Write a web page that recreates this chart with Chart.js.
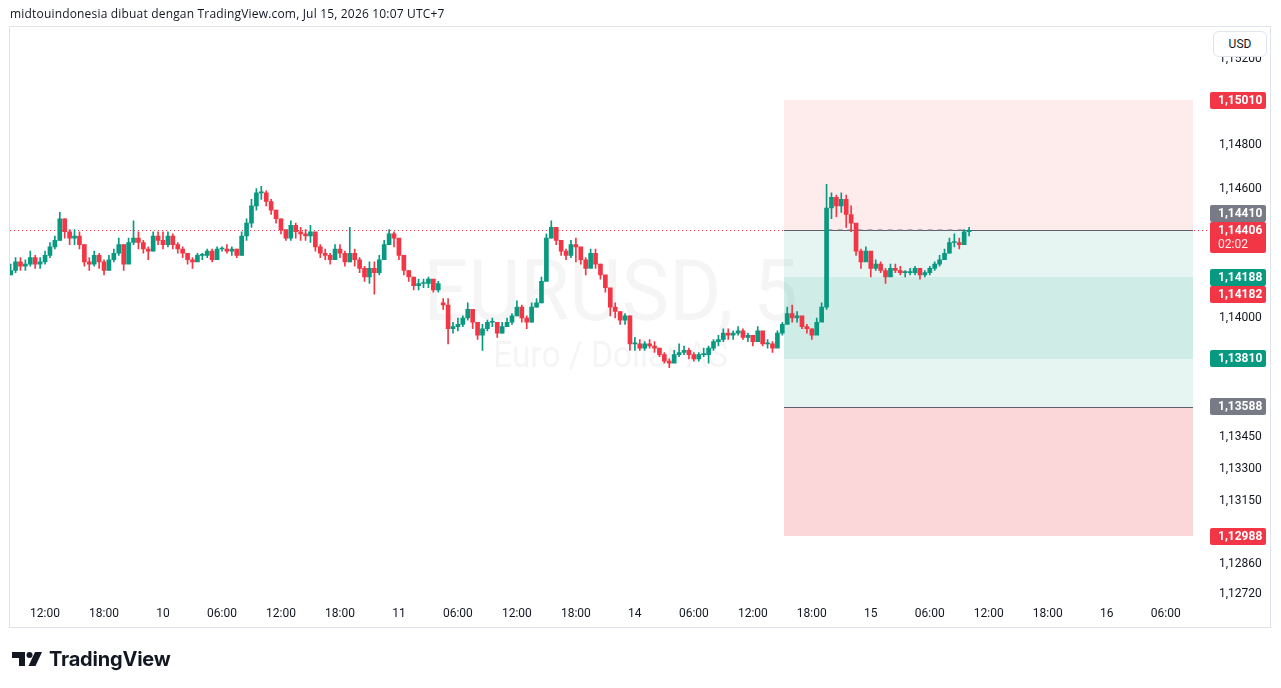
<!DOCTYPE html>
<html lang="id">
<head>
<meta charset="UTF-8">
<title>EURUSD, 5 - TradingView</title>
<script src="https://cdn.jsdelivr.net/npm/chart.js@4.4.0/dist/chart.umd.min.js"></script>
<style>
  html, body { margin: 0; padding: 0; background: #fff; }
  body { width: 1281px; height: 688px; position: relative; overflow: hidden;
         font-family: Roboto, "Liberation Sans", sans-serif; color: #131722; }
  #chart { position: absolute; left: 0; top: 0; }
  #header { position: absolute; left: 10px; top: 7px; font-family: "Open Sans", Roboto, sans-serif;
            font-size: 12px; line-height: 14px; letter-spacing: 0.18px; }
  #usd { position: absolute; left: 1213px; top: 31px; width: 52px; height: 24px;
         border: 1px solid #e0e3eb; border-radius: 6px; background: #fff;
         font-size: 12px; line-height: 24px; text-align: center; }
  #logo { position: absolute; left: 12px; top: 647px; display: flex; align-items: center; }
  #logo span { font-family: Inter, Roboto, sans-serif; font-weight: 700; font-size: 20px;
               margin-left: 7px; letter-spacing: -0.2px; }
</style>
</head>
<body>
<canvas id="chart" width="1281" height="688"></canvas>
<div id="header">midtouindonesia dibuat dengan TradingView.com, Jul 15, 2026 10:07 UTC+7</div>
<div id="usd">USD</div>
<div id="logo">
  <svg width="30" height="18" viewBox="0 0 30 18">
    <path d="M0 2h13v14h-6v-8H0z" fill="#131722"/>
    <circle cx="17.5" cy="5" r="3" fill="#131722"/>
    <path d="M23 2h7l-6.5 14h-7z" fill="#131722"/>
  </svg>
  <span>TradingView</span>
</div>

<script>
// ---- data (EURUSD, 30-minute resampling of the 5m chart) ----
const firstCandleHour = 8.5;     // Jul 9 08:30, hours counted over trading time
const candleStepHours = 0.5;
const firstOpen = 1.1420;
const weekendGapIndex = 88;      // Monday open after the weekend gap
const weekendGapOpen = 1.1407;

const closes = [
  1.1422, 1.1426, 1.1424, 1.1425, 1.1428, 1.1425, 1.1426, 1.1429, 1.1433, 1.1436,
  1.1446, 1.1440, 1.1437, 1.1438, 1.1434, 1.1426, 1.1425, 1.1429, 1.1426, 1.1422,
  1.1427, 1.1430, 1.1434, 1.1425, 1.1435, 1.1437, 1.1435, 1.1432, 1.1431, 1.1438,
  1.1436, 1.1434, 1.1438, 1.1434, 1.1432, 1.1430, 1.1427, 1.1426, 1.1429, 1.1429,
  1.1431, 1.1427, 1.1432, 1.1432, 1.1431, 1.1432, 1.1429, 1.1438, 1.1444, 1.1452,
  1.1458, 1.1458, 1.1454, 1.1450, 1.1446, 1.1441, 1.1437, 1.1443, 1.1440, 1.1439,
  1.1438, 1.1440, 1.1433, 1.1430, 1.1429, 1.1427, 1.1432, 1.1430, 1.1426, 1.1430,
  1.1427, 1.1423, 1.1419, 1.1423, 1.1421, 1.1427, 1.1434, 1.1439, 1.1437, 1.1429,
  1.1422, 1.1419, 1.1415, 1.1416, 1.1416, 1.1418, 1.1413, 1.1416, 1.1406, 1.1395,
  1.1396, 1.1397, 1.1400, 1.1404, 1.1398, 1.1392, 1.1395, 1.1398, 1.1398, 1.1393,
  1.1396, 1.1398, 1.1401, 1.1405, 1.1400, 1.1398, 1.1405, 1.1407, 1.1417, 1.1437,
  1.1442, 1.1436, 1.1431, 1.1429, 1.1434, 1.1433, 1.1427, 1.1423, 1.1430, 1.1425,
  1.1420, 1.1414, 1.1405, 1.1403, 1.1399, 1.1401, 1.1388, 1.1388, 1.1386, 1.1388,
  1.1387, 1.1386, 1.1383, 1.1380, 1.1379, 1.1383, 1.1384, 1.1385, 1.1383, 1.1381,
  1.1383, 1.1383, 1.1386, 1.1389, 1.1390, 1.1393, 1.1392, 1.1393, 1.1394, 1.1391,
  1.1392, 1.1389, 1.1394, 1.1388, 1.1388, 1.1386, 1.1393, 1.1397, 1.1402, 1.1400,
  1.1401, 1.1396, 1.1395, 1.1392, 1.1398, 1.1405, 1.1451, 1.1456, 1.1452, 1.1455,
  1.1448, 1.1444, 1.1431, 1.1426, 1.1431, 1.1423, 1.1425, 1.1422, 1.1419, 1.1423,
  1.1422, 1.1421, 1.1421, 1.1421, 1.1423, 1.1420, 1.1421, 1.1423, 1.1425, 1.1427,
  1.1430, 1.1435, 1.1435, 1.1434, 1.1440, 1.14406
];
const highs = [
  1.1425, 1.1428, 1.1428, 1.1427, 1.1431, 1.1429, 1.1428, 1.1431, 1.1435, 1.1438,
  1.1449, 1.1446, 1.1441, 1.1441, 1.1440, 1.1434, 1.1428, 1.1431, 1.1430, 1.1427,
  1.1429, 1.1432, 1.1437, 1.1434, 1.1437, 1.1445, 1.1440, 1.1436, 1.1433, 1.1440,
  1.1440, 1.1440, 1.1440, 1.1439, 1.1435, 1.1433, 1.1430, 1.1428, 1.1430, 1.1430,
  1.1432, 1.1432, 1.1433, 1.1433, 1.1434, 1.1433, 1.1432, 1.1440, 1.1446, 1.1455,
  1.1460, 1.1461, 1.1459, 1.1455, 1.1450, 1.1446, 1.1440, 1.1445, 1.1444, 1.1442,
  1.1441, 1.1443, 1.1437, 1.1434, 1.1432, 1.1430, 1.1434, 1.1434, 1.1431, 1.1442,
  1.1432, 1.1428, 1.1424, 1.1426, 1.1426, 1.1429, 1.1436, 1.1441, 1.1440, 1.1436,
  1.1428, 1.1422, 1.1419, 1.1418, 1.1418, 1.1419, 1.1417, 1.1417, 1.1409, 1.1409,
  1.1398, 1.1400, 1.1401, 1.1407, 1.1402, 1.1397, 1.1397, 1.1399, 1.1400, 1.1397,
  1.1398, 1.1400, 1.1402, 1.1408, 1.1406, 1.1401, 1.1407, 1.1409, 1.1419, 1.1439,
  1.1445, 1.1442, 1.1436, 1.1432, 1.1436, 1.1437, 1.1432, 1.1428, 1.1432, 1.1432,
  1.1425, 1.1419, 1.1413, 1.1407, 1.1403, 1.1402, 1.1401, 1.1391, 1.1390, 1.1389,
  1.1390, 1.1389, 1.1385, 1.1384, 1.1381, 1.1385, 1.1388, 1.1387, 1.1386, 1.1384,
  1.1384, 1.1386, 1.1387, 1.1390, 1.1392, 1.1395, 1.1395, 1.1394, 1.1396, 1.1395,
  1.1393, 1.1392, 1.1396, 1.1393, 1.1390, 1.1389, 1.1394, 1.1398, 1.1405, 1.1406,
  1.1403, 1.1400, 1.1397, 1.1395, 1.1400, 1.1407, 1.1462, 1.1458, 1.1457, 1.1458,
  1.1457, 1.1452, 1.1443, 1.1432, 1.1433, 1.1430, 1.1427, 1.1426, 1.1423, 1.1425,
  1.1425, 1.1424, 1.1422, 1.1423, 1.1424, 1.1422, 1.1422, 1.1424, 1.1426, 1.1429,
  1.1432, 1.1437, 1.1439, 1.1437, 1.1441, 1.1442
];
const lows = [
  1.1420, 1.1421, 1.1422, 1.1422, 1.1424, 1.1423, 1.1423, 1.1425, 1.1428, 1.1432,
  1.1436, 1.1437, 1.1434, 1.1434, 1.1432, 1.1424, 1.1422, 1.1424, 1.1423, 1.1420,
  1.1422, 1.1426, 1.1429, 1.1422, 1.1426, 1.1434, 1.1432, 1.1430, 1.1427, 1.1431,
  1.1434, 1.1432, 1.1433, 1.1432, 1.1430, 1.1428, 1.1425, 1.1423, 1.1427, 1.1427,
  1.1428, 1.1426, 1.1428, 1.1431, 1.1430, 1.1429, 1.1428, 1.1429, 1.1436, 1.1442,
  1.1450, 1.1455, 1.1452, 1.1448, 1.1444, 1.1439, 1.1436, 1.1436, 1.1437, 1.1436,
  1.1436, 1.1435, 1.1431, 1.1428, 1.1427, 1.1425, 1.1428, 1.1428, 1.1424, 1.1426,
  1.1424, 1.1421, 1.1417, 1.1416, 1.1411, 1.1420, 1.1428, 1.1434, 1.1433, 1.1427,
  1.1420, 1.1417, 1.1413, 1.1413, 1.1414, 1.1414, 1.1412, 1.1412, 1.1404, 1.1388,
  1.1393, 1.1394, 1.1396, 1.1399, 1.1395, 1.1390, 1.1385, 1.1394, 1.1396, 1.1391,
  1.1393, 1.1396, 1.1397, 1.1401, 1.1398, 1.1395, 1.1398, 1.1405, 1.1407, 1.1418,
  1.1437, 1.1434, 1.1429, 1.1427, 1.1428, 1.1426, 1.1425, 1.1420, 1.1424, 1.1423,
  1.1418, 1.1412, 1.1401, 1.1400, 1.1397, 1.1397, 1.1385, 1.1385, 1.1385, 1.1385,
  1.1386, 1.1384, 1.1382, 1.1379, 1.1377, 1.1380, 1.1382, 1.1383, 1.1381, 1.1380,
  1.1380, 1.1382, 1.1379, 1.1385, 1.1387, 1.1389, 1.1390, 1.1390, 1.1392, 1.1390,
  1.1389, 1.1387, 1.1389, 1.1387, 1.1386, 1.1384, 1.1388, 1.1392, 1.1398, 1.1398,
  1.1398, 1.1395, 1.1393, 1.1390, 1.1394, 1.1401, 1.1404, 1.1446, 1.1447, 1.1449,
  1.1442, 1.1440, 1.1429, 1.1423, 1.1427, 1.1419, 1.1422, 1.1421, 1.1416, 1.1420,
  1.1421, 1.1420, 1.1419, 1.1420, 1.1420, 1.1418, 1.1419, 1.1420, 1.1422, 1.1424,
  1.1427, 1.1430, 1.1433, 1.1432, 1.1434, 1.1438
];

// time axis: ticks in trading hours from Jul 9 00:00 (weekend removed)
const timeTickHours = [12, 18, 24, 30, 36, 42, 48, 54, 60, 66, 72, 78, 84, 90, 96, 102, 108, 114, 120, 126];
const timeTickLabels = ['12:00', '18:00', '10', '06:00', '12:00', '18:00', '11', '06:00', '12:00', '18:00',
                        '14', '06:00', '12:00', '18:00', '15', '06:00', '12:00', '18:00', '16', '06:00'];
const xMin = 8.435, xMax = 128.98;

// price axis
const priceTicks = [1.152, 1.148, 1.146, 1.140, 1.1345, 1.133, 1.1315, 1.1286, 1.1272];
const yMin = 1.12692, yMax = 1.15330;

// position tools (short and long)
const posStartHour = 87.2, posEndHour = 128.8;
const shortEntry = 1.14410, shortStop = 1.15010, shortTarget = 1.13810;
const longEntry = 1.13588, longStop = 1.12988, longTarget = 1.14188;
const tradeFromHour = 91.6;
const markPrice = 1.14182;
const countdown = '02:02';

const UP = '#089981', DOWN = '#f23645', GREY = '#787b86';
const FONT = 'Roboto, "Liberation Sans", sans-serif';

// build candles
const opens = closes.map((c, i) => i === 0 ? firstOpen : (i === weekendGapIndex ? weekendGapOpen : closes[i - 1]));
const hours = closes.map((c, i) => firstCandleHour + i * candleStepHours);
const candleColors = closes.map((c, i) => c >= opens[i] ? UP : DOWN);
const lastClose = closes[closes.length - 1];
const lastHour = hours[hours.length - 1];

const fmt = v => v.toFixed(5).replace('.', ',');

const decor = {
  id: 'decor',
  beforeDatasetsDraw(chart) {
    const { ctx, chartArea: a, scales: { x, y } } = chart;
    ctx.save();
    ctx.beginPath();
    ctx.rect(a.left, a.top, a.right - a.left, a.bottom - a.top);
    ctx.clip();

    // watermark
    const cx = (a.left + a.right) / 2 + 8;
    ctx.fillStyle = 'rgba(19,23,34,0.045)';
    ctx.textAlign = 'center';
    ctx.textBaseline = 'alphabetic';
    ctx.save();
    ctx.translate(cx, 0);
    ctx.scale(0.93, 1);
    ctx.font = '86px ' + FONT;
    ctx.fillText('EURUSD, 5', 0, 320);
    ctx.font = '36px ' + FONT;
    ctx.fillText('Euro / Dollar AS', 0, 367);
    ctx.restore();

    // position tool zones
    const xs = Math.round(x.getPixelForValue(posStartHour));
    const xe = Math.round(x.getPixelForValue(posEndHour));
    const zone = (p1, p2, color) => {
      const t = Math.round(y.getPixelForValue(Math.max(p1, p2)));
      const b = Math.round(y.getPixelForValue(Math.min(p1, p2)));
      ctx.fillStyle = color;
      ctx.fillRect(xs, t, xe - xs, b - t);
    };
    zone(shortEntry, shortStop, 'rgba(242,54,69,0.1)');
    zone(shortEntry, shortTarget, 'rgba(8,153,129,0.1)');
    zone(longEntry, longTarget, 'rgba(8,153,129,0.1)');
    zone(longEntry, longStop, 'rgba(242,54,69,0.2)');
    ctx.restore();

    // current price line (dotted)
    const py = Math.round(y.getPixelForValue(lastClose)) + 0.5;
    ctx.save();
    ctx.strokeStyle = DOWN;
    ctx.lineWidth = 1;
    ctx.setLineDash([1, 3]);
    ctx.beginPath();
    ctx.moveTo(a.left, py);
    ctx.lineTo(1210, py);
    ctx.stroke();
    ctx.setLineDash([]);

    // entry lines
    ctx.strokeStyle = '#5d606b';
    [shortEntry, longEntry].forEach(p => {
      const ly = Math.round(y.getPixelForValue(p)) + 0.5;
      ctx.beginPath();
      ctx.moveTo(xs, ly);
      ctx.lineTo(xe, ly);
      ctx.stroke();
    });

    // trade path (dashed)
    ctx.strokeStyle = 'rgba(120,123,134,0.55)';
    ctx.lineWidth = 2;
    ctx.setLineDash([5, 5]);
    const ty = Math.round(y.getPixelForValue(shortEntry));
    ctx.beginPath();
    ctx.moveTo(x.getPixelForValue(tradeFromHour), ty);
    ctx.lineTo(x.getPixelForValue(lastHour), ty);
    ctx.stroke();
    ctx.restore();
  },
  afterDraw(chart) {
    const { ctx, scales: { y } } = chart;
    ctx.save();
    // chart frame
    ctx.strokeStyle = '#e0e3eb';
    ctx.lineWidth = 1;
    ctx.strokeRect(9.5, 26.5, 1261, 601);

    // price labels on the axis
    const items = [
      { value: lastClose, color: DOWN, sub: countdown, fixed: true },
      { value: shortStop, color: DOWN },
      { value: longTarget, color: UP },
      { value: shortTarget, color: UP },
      { value: longEntry, color: GREY },
      { value: longStop, color: DOWN },
      { value: markPrice, color: DOWN },
      { value: shortEntry, color: GREY }
    ];
    const H = 17;
    const placed = [];
    items.forEach(it => {
      const cy = y.getPixelForValue(it.value);
      let top = Math.round(cy - H / 2);
      const h = it.sub ? 31 : H;
      if (!it.fixed) {
        for (let k = 0; k < 3; k++) {
          const hit = placed.find(p => top < p.top + p.h && top + h > p.top);
          if (!hit) break;
          top = cy < hit.top + hit.h / 2 ? hit.top - h : hit.top + hit.h;
        }
      }
      placed.push({ top, h, it });
    });
    placed.forEach(({ top, h, it }) => {
      ctx.fillStyle = it.color;
      ctx.beginPath();
      ctx.roundRect(1210, top, 56, h, 2);
      ctx.fill();
      ctx.fillStyle = '#fff';
      ctx.textAlign = 'left';
      ctx.textBaseline = 'middle';
      ctx.font = 'bold 12px ' + FONT;
      ctx.fillText(fmt(it.value), 1218, top + 9);
      if (it.sub) {
        ctx.font = '12px ' + FONT;
        ctx.fillStyle = 'rgba(255,255,255,0.9)';
        ctx.fillText(it.sub, 1218, top + 23);
      }
    });
    ctx.restore();
  }
};

new Chart(document.getElementById('chart'), {
  type: 'bar',
  data: {
    datasets: [
      {
        label: 'body',
        data: hours.map((h, i) => ({ x: h, y: [opens[i], closes[i]] })),
        backgroundColor: candleColors,
        barThickness: 4,
        minBarLength: 1,
        grouped: false,
        borderWidth: 0
      },
      {
        label: 'wick',
        data: hours.map((h, i) => ({ x: h, y: [lows[i], highs[i]] })),
        backgroundColor: candleColors,
        barThickness: 1,
        grouped: false,
        borderWidth: 0
      }
    ]
  },
  options: {
    responsive: false,
    animation: false,
    layout: { padding: { left: 10, right: 11, top: 28, bottom: 60 } },
    plugins: { legend: { display: false }, tooltip: { enabled: false } },
    scales: {
      x: {
        type: 'linear',
        min: xMin,
        max: xMax,
        offset: false,
        grid: { display: false, drawTicks: false },
        border: { display: false },
        afterBuildTicks: s => { s.ticks = timeTickHours.map(v => ({ value: v })); },
        afterFit: s => { s.height = 28; },
        ticks: {
          autoSkip: false,
          maxRotation: 0,
          padding: 7,
          color: '#131722',
          font: { size: 12, family: FONT },
          callback: (v, i) => timeTickLabels[i]
        }
      },
      y: {
        position: 'right',
        min: yMin,
        max: yMax,
        grid: { display: false, drawTicks: false },
        border: { display: false },
        afterBuildTicks: s => { s.ticks = priceTicks.map(v => ({ value: v })); },
        afterFit: s => { s.width = 75; },
        ticks: {
          padding: 24,
          crossAlign: 'near',
          color: '#131722',
          font: { size: 12, family: FONT },
          callback: v => fmt(v)
        }
      }
    }
  },
  plugins: [decor]
});
</script>
</body>
</html>
